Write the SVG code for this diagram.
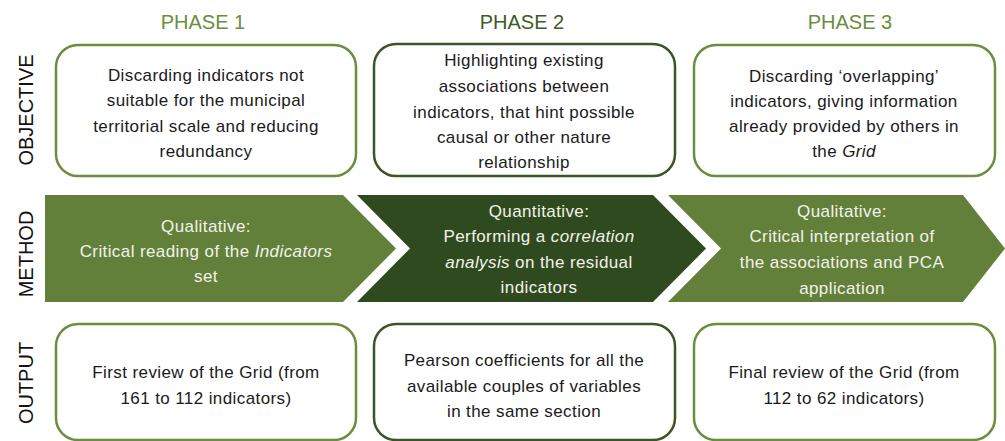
<svg xmlns="http://www.w3.org/2000/svg" width="1005" height="441" viewBox="0 0 1005 441">
<style>
.phase{font-family:"Liberation Sans",Arial,sans-serif;font-size:20px;text-anchor:middle;fill:#6b8e3e}
.phase2{fill:#3f5c28}
.row{font-family:"Liberation Sans",Arial,sans-serif;font-size:20px;text-anchor:middle;fill:#111}
.box{fill:#fff;stroke:#6b8e3e;stroke-width:2.5}
.boxd{fill:#fff;stroke:#3b5526;stroke-width:2.5}
.t{font-family:"Liberation Sans",Arial,sans-serif;font-size:17px;letter-spacing:0.4px;text-anchor:middle;fill:#1a1a1a}
.w{font-family:"Liberation Sans",Arial,sans-serif;font-size:17px;letter-spacing:0.4px;text-anchor:middle;fill:#f2f2ea}
.g{fill:#62803a}
.d{fill:#2f4a1e}
</style>
<text class="phase" x="203" y="29">PHASE 1</text>
<text class="phase phase2" x="522" y="29">PHASE 2</text>
<text class="phase" x="850" y="29">PHASE 3</text>
<text class="row" transform="translate(33,110) rotate(-90)">OBJECTIVE</text>
<text class="row" transform="translate(33,254) rotate(-90)">METHOD</text>
<text class="row" transform="translate(33,383) rotate(-90)">OUTPUT</text>
<g id="obj1">
<rect class="box" x="56" y="45" width="300" height="131" rx="22"/>
<text class="t" x="206" y="81">Discarding indicators not</text>
<text class="t" x="206" y="106">suitable for the municipal</text>
<text class="t" x="206" y="132">territorial scale and reducing</text>
<text class="t" x="206" y="157">redundancy</text>
</g>
<g id="obj2">
<rect class="boxd" x="374" y="44" width="301" height="132" rx="22"/>
<text class="t" x="524" y="66">Highlighting existing</text>
<text class="t" x="524" y="92">associations between</text>
<text class="t" x="524" y="118">indicators, that hint possible</text>
<text class="t" x="524" y="143">causal or other nature</text>
<text class="t" x="524" y="168">relationship</text>
</g>
<g id="obj3">
<rect class="box" x="694" y="45" width="301" height="131" rx="22"/>
<text class="t" x="844" y="82">Discarding ‘overlapping’</text>
<text class="t" x="844" y="107">indicators, giving information</text>
<text class="t" x="844" y="132">already provided by others in</text>
<text class="t" x="844" y="157">the <tspan font-style="italic">Grid</tspan></text>
</g>
<g id="method1">
<polygon class="g" points="45,195 343,195 396,248.5 343,302 45,302"/>
<text class="w" x="206" y="232">Qualitative:</text>
<text class="w" x="206" y="257">Critical reading of the <tspan font-style="italic">Indicators</tspan></text>
<text class="w" x="206" y="282">set</text>
</g>
<g id="method2">
<polygon class="d" points="357,195 653,195 706,248.5 653,302 357,302 410,248.5"/>
<text class="w" x="539" y="217">Quantitative:</text>
<text class="w" x="539" y="242">Performing a <tspan font-style="italic">correlation</tspan></text>
<text class="w" x="539" y="268"><tspan font-style="italic">analysis</tspan> on the residual</text>
<text class="w" x="539" y="293">indicators</text>
</g>
<g id="method3">
<polygon class="g" points="668,195 963,195 1005,248.5 963,302 668,302 721,248.5"/>
<text class="w" x="842" y="217">Qualitative:</text>
<text class="w" x="842" y="242">Critical interpretation of</text>
<text class="w" x="842" y="268">the associations and PCA</text>
<text class="w" x="842" y="294">application</text>
</g>
<g id="out1">
<rect class="box" x="56" y="324" width="300" height="116" rx="22"/>
<text class="t" x="206" y="378">First review of the Grid (from</text>
<text class="t" x="206" y="404">161 to 112 indicators)</text>
</g>
<g id="out2">
<rect class="boxd" x="374" y="324" width="301" height="116" rx="22"/>
<text class="t" x="524" y="366">Pearson coefficients for all the</text>
<text class="t" x="524" y="392">available couples of variables</text>
<text class="t" x="524" y="417">in the same section</text>
</g>
<g id="out3">
<rect class="box" x="694" y="324" width="301" height="116" rx="22"/>
<text class="t" x="844" y="378">Final review of the Grid (from</text>
<text class="t" x="844" y="404">112 to 62 indicators)</text>
</g>
<g id="connectors"></g>
</svg>
